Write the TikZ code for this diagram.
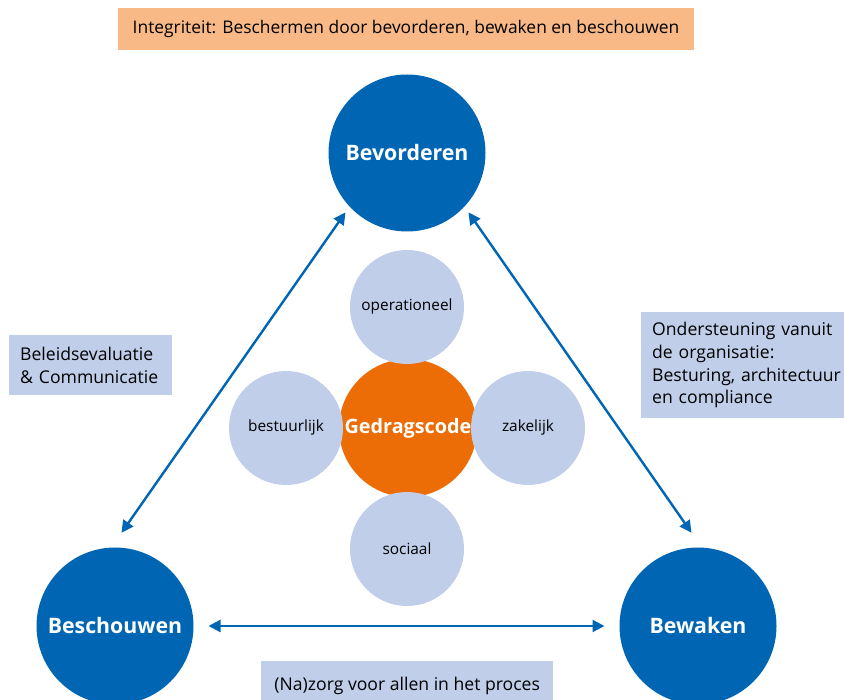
\documentclass[tikz,border=0pt]{standalone}
\usepackage{fontspec}
\setmainfont{Open Sans}
\usetikzlibrary{arrows.meta,positioning,calc}

\definecolor{roblue}{RGB}{0,102,179}
\definecolor{rolight}{RGB}{192,206,234}
\definecolor{roorange}{RGB}{236,108,5}
\definecolor{ropeach}{RGB}{248,185,135}

\begin{document}
\begin{tikzpicture}[x=1pt,y=-1pt,
    big/.style={circle,fill=roblue,text=white,minimum size=157pt,inner sep=0pt,
        font=\fontsize{21.3}{26}\selectfont\bfseries},
    small/.style={circle,fill=rolight,minimum size=114pt,inner sep=0pt,
        font=\fontsize{15.4}{18}\selectfont},
    infobox/.style={fill=rolight,anchor=north west,align=left,inner xsep=11pt,
        font=\fontsize{17.6}{23}\selectfont},
    arr/.style={{Triangle[length=12pt,width=12pt]}-{Triangle[length=12pt,width=12pt]},
        line width=2.4pt,draw=roblue}]
\useasboundingbox (0,0) rectangle (844,700);

% top line
\node[fill=ropeach,minimum width=576pt,minimum height=42pt,
    font=\fontsize{17.4}{20}\selectfont] (title) at (406,29)
    {Integriteit: Beschermen door bevorderen, bewaken en beschouwen};

% the three big circles
\node[big,outer sep=7pt] (bev) at (407,153) {Bevorderen};
\node[big,outer sep=15pt] (besch) at (115,626) {Beschouwen};
\node[big,outer sep=15pt] (bew) at (698,626) {Bewaken};

% centre
\node[circle,fill=roorange,minimum size=138pt] (code) at (408,428) {};
\node[small] (oper) at (407,307) {operationeel};
\node[small] (best) at (286,428) {bestuurlijk};
\node[small] (zak) at (528,428) {zakelijk};
\node[small] (soc) at (407,549) {sociaal};
\node[text=white,font=\fontsize{19.8}{24}\selectfont\bfseries] at (code) {Gedragscode};

\draw[arr] (besch.86) -- (bev.224);
\draw[arr] (bev.316) -- (bew.94);
\draw[arr] (besch.0) -- (bew.180);

% explanations
\node[infobox,text width=141pt,minimum height=60pt] (beleid) at (9,335)
    {Beleidsevaluatie\\\& Communicatie};
\node[infobox,text width=192pt,minimum height=106pt,
    font=\fontsize{17.6}{22.6}\selectfont] (onder) at (641,312)
    {Ondersteuning vanuit\\de organisatie:\\Besturing, architectuur\\en compliance};
\node[infobox,minimum width=292pt,minimum height=50pt] (zorg) at (261,661)
    {(Na)zorg voor allen in het proces};
\end{tikzpicture}
\end{document}
